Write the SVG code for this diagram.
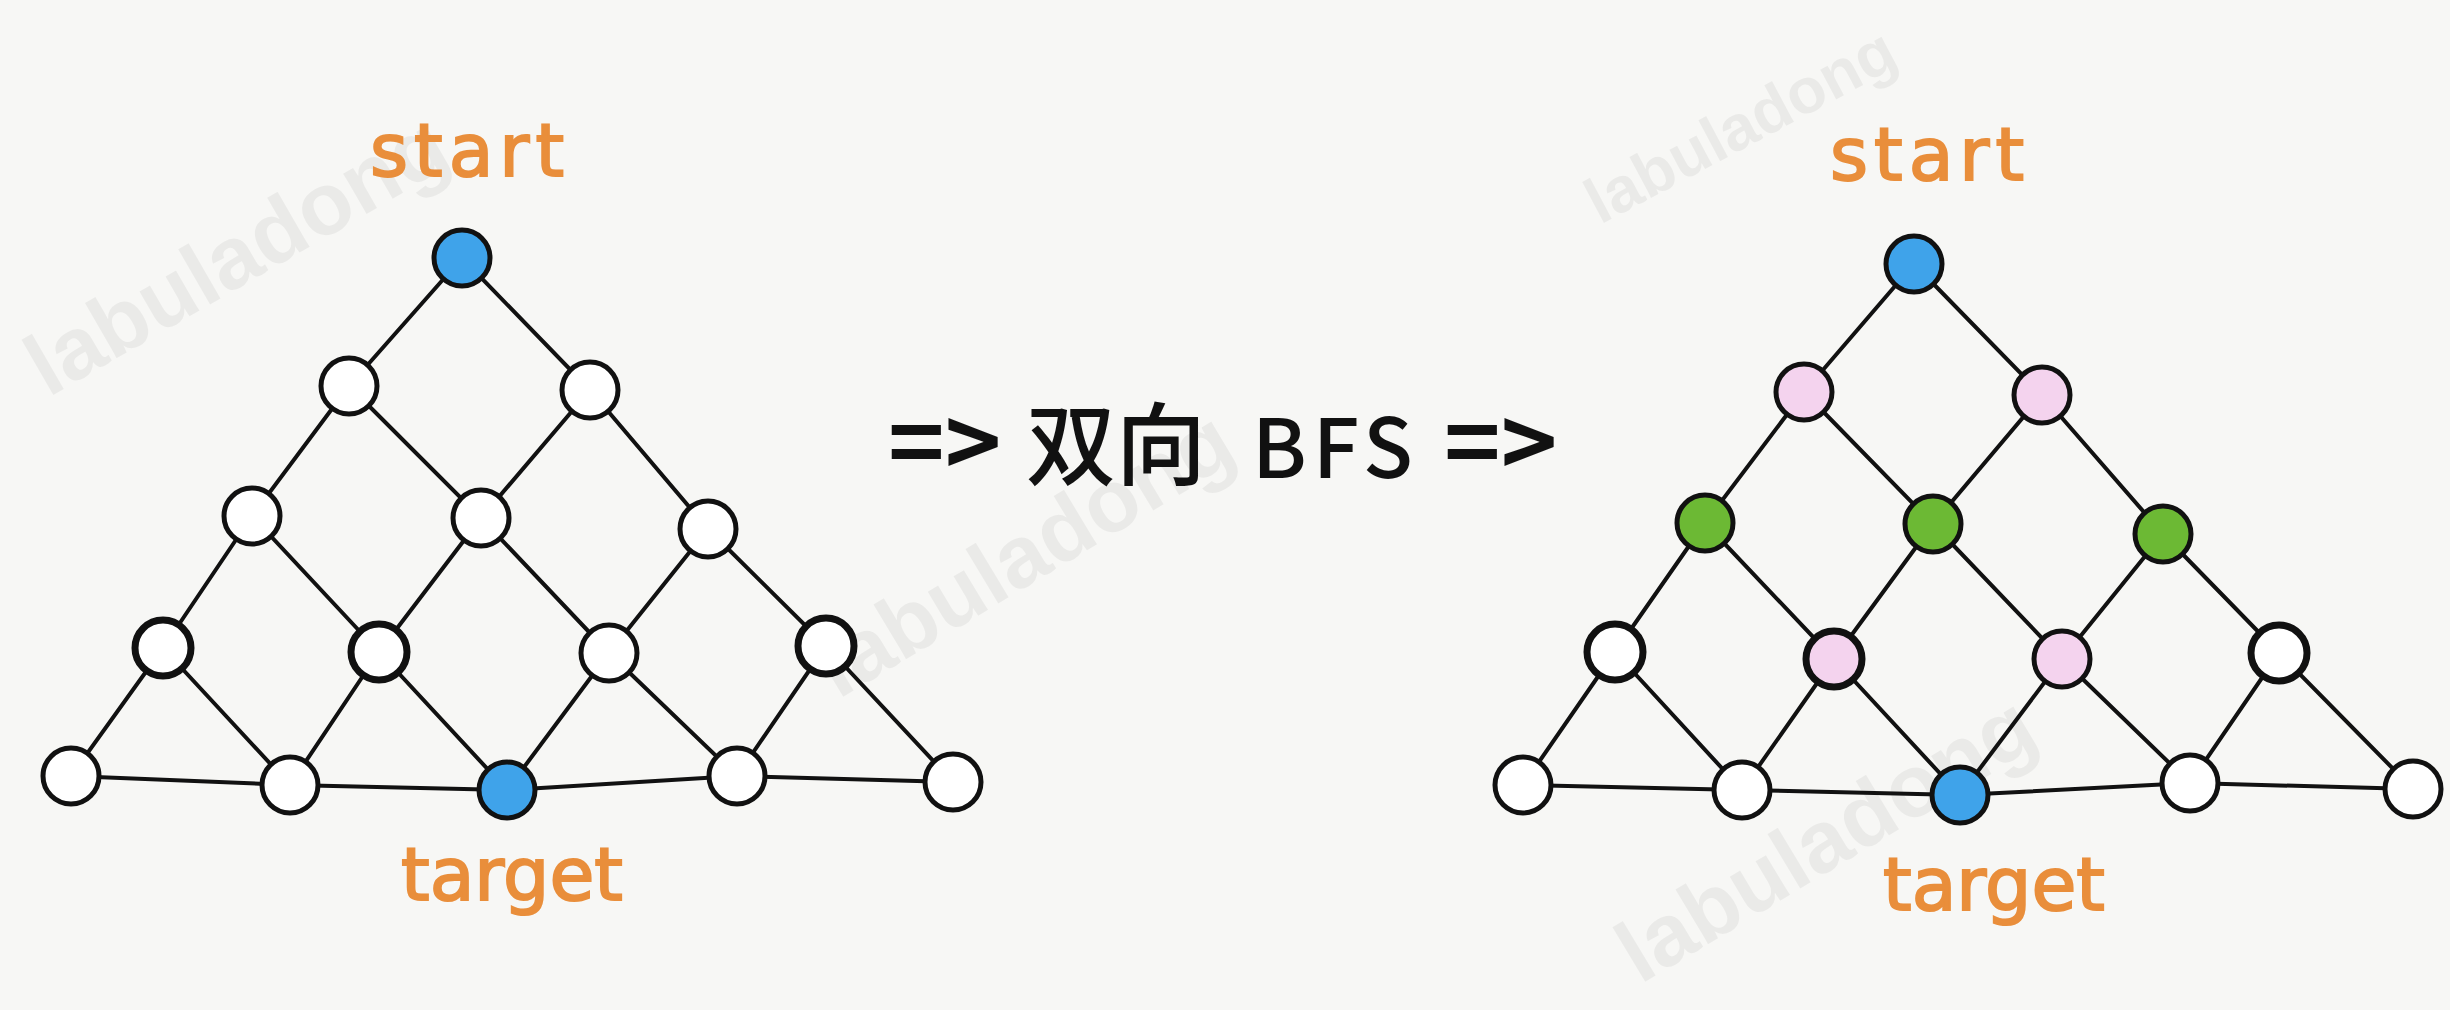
<svg xmlns="http://www.w3.org/2000/svg" width="2450" height="1010" viewBox="0 0 2450 1010">
<style>
.bg{fill:#f7f7f5}
.e{stroke:#111;stroke-width:4;fill:none;stroke-linecap:round}
.n{stroke:#111;stroke-width:5}
.w{fill:#ffffff}
.b{fill:#3fa3ea}
.p{fill:#f4d3ee}
.g{fill:#6cb934}
.thick{stroke-width:7}
.lbl{font-family:"DejaVu Sans","Liberation Sans",sans-serif;font-size:73px;fill:#e98e3b;stroke:#e98e3b;stroke-width:2;text-anchor:middle}
.wm{font-family:"Liberation Sans","DejaVu Sans",sans-serif;font-weight:700;font-size:88px;fill:#000;fill-opacity:0.05}
.wms{font-size:64px}
.mid{font-family:"Noto Sans CJK SC","Noto Sans",sans-serif;fill:#111}
</style>
<rect class="bg" x="0" y="0" width="2450" height="1010"/>
<g id="watermarks">
<text class="wm" transform="translate(48,398) rotate(-30)">labuladong</text>
<text class="wm" transform="translate(838,700) rotate(-31)">labuladong</text>
<text class="wm wms" transform="translate(1600,225) rotate(-28)">labuladong</text>
<text class="wm" transform="translate(1640,985) rotate(-31)">labuladong</text>
</g>
<g id="connectors">
<line class="e" x1="462" y1="258" x2="349" y2="386"/>
<line class="e" x1="462" y1="258" x2="590" y2="390"/>
<line class="e" x1="349" y1="386" x2="252" y2="516"/>
<line class="e" x1="349" y1="386" x2="481" y2="518"/>
<line class="e" x1="590" y1="390" x2="481" y2="518"/>
<line class="e" x1="590" y1="390" x2="708" y2="529"/>
<line class="e" x1="252" y1="516" x2="163" y2="648"/>
<line class="e" x1="252" y1="516" x2="379" y2="652"/>
<line class="e" x1="481" y1="518" x2="379" y2="652"/>
<line class="e" x1="481" y1="518" x2="609" y2="653"/>
<line class="e" x1="708" y1="529" x2="609" y2="653"/>
<line class="e" x1="708" y1="529" x2="826" y2="646"/>
<line class="e" x1="163" y1="648" x2="71" y2="776"/>
<line class="e" x1="163" y1="648" x2="290" y2="785"/>
<line class="e" x1="379" y1="652" x2="290" y2="785"/>
<line class="e" x1="379" y1="652" x2="507" y2="790"/>
<line class="e" x1="609" y1="653" x2="507" y2="790"/>
<line class="e" x1="609" y1="653" x2="737" y2="776"/>
<line class="e" x1="826" y1="646" x2="737" y2="776"/>
<line class="e" x1="826" y1="646" x2="953" y2="782"/>
<polyline class="e" points="71,776 290,785 507,790 737,776 953,782"/>
<line class="e" x1="1914" y1="264" x2="1804" y2="392"/>
<line class="e" x1="1914" y1="264" x2="2042" y2="395"/>
<line class="e" x1="1804" y1="392" x2="1705" y2="523"/>
<line class="e" x1="1804" y1="392" x2="1933" y2="524"/>
<line class="e" x1="2042" y1="395" x2="1933" y2="524"/>
<line class="e" x1="2042" y1="395" x2="2163" y2="534"/>
<line class="e" x1="1705" y1="523" x2="1615" y2="652"/>
<line class="e" x1="1705" y1="523" x2="1834" y2="659"/>
<line class="e" x1="1933" y1="524" x2="1834" y2="659"/>
<line class="e" x1="1933" y1="524" x2="2062" y2="659"/>
<line class="e" x1="2163" y1="534" x2="2062" y2="659"/>
<line class="e" x1="2163" y1="534" x2="2279" y2="653"/>
<line class="e" x1="1615" y1="652" x2="1523" y2="785"/>
<line class="e" x1="1615" y1="652" x2="1742" y2="790"/>
<line class="e" x1="1834" y1="659" x2="1742" y2="790"/>
<line class="e" x1="1834" y1="659" x2="1960" y2="795"/>
<line class="e" x1="2062" y1="659" x2="1960" y2="795"/>
<line class="e" x1="2062" y1="659" x2="2190" y2="783"/>
<line class="e" x1="2279" y1="653" x2="2190" y2="783"/>
<line class="e" x1="2279" y1="653" x2="2413" y2="789"/>
<polyline class="e" points="1523,785 1742,790 1960,795 2190,783 2413,789"/>
</g>
<g id="left-nodes">
<g id="L1"><circle class="n b" cx="462" cy="258" r="28"/></g>
<g id="L2a"><circle class="n w" cx="349" cy="386" r="28"/></g>
<g id="L2b"><circle class="n w" cx="590" cy="390" r="28"/></g>
<g id="L3a"><circle class="n w" cx="252" cy="516" r="28"/></g>
<g id="L3b"><circle class="n w" cx="481" cy="518" r="28"/></g>
<g id="L3c"><circle class="n w" cx="708" cy="529" r="28"/></g>
<g id="L4a"><circle class="n w thick" cx="163" cy="648" r="28"/></g>
<g id="L4b"><circle class="n w thick" cx="379" cy="652" r="28"/></g>
<g id="L4c"><circle class="n w" cx="609" cy="653" r="28"/></g>
<g id="L4d"><circle class="n w thick" cx="826" cy="646" r="28"/></g>
<g id="L5a"><circle class="n w" cx="71" cy="776" r="28"/></g>
<g id="L5b"><circle class="n w" cx="290" cy="785" r="28"/></g>
<g id="L5c"><circle class="n b" cx="507" cy="790" r="28"/></g>
<g id="L5d"><circle class="n w" cx="737" cy="776" r="28"/></g>
<g id="L5e"><circle class="n w" cx="953" cy="782" r="28"/></g>
</g>
<g id="right-nodes">
<g id="R1"><circle class="n b" cx="1914" cy="264" r="28"/></g>
<g id="R2a"><circle class="n p" cx="1804" cy="392" r="28"/></g>
<g id="R2b"><circle class="n p" cx="2042" cy="395" r="28"/></g>
<g id="R3a"><circle class="n g" cx="1705" cy="523" r="28"/></g>
<g id="R3b"><circle class="n g" cx="1933" cy="524" r="28"/></g>
<g id="R3c"><circle class="n g" cx="2163" cy="534" r="28"/></g>
<g id="R4a"><circle class="n w thick" cx="1615" cy="652" r="28"/></g>
<g id="R4b"><circle class="n p thick" cx="1834" cy="659" r="28"/></g>
<g id="R4c"><circle class="n p" cx="2062" cy="659" r="28"/></g>
<g id="R4d"><circle class="n w thick" cx="2279" cy="653" r="28"/></g>
<g id="R5a"><circle class="n w" cx="1523" cy="785" r="28"/></g>
<g id="R5b"><circle class="n w" cx="1742" cy="790" r="28"/></g>
<g id="R5c"><circle class="n b" cx="1960" cy="795" r="28"/></g>
<g id="R5d"><circle class="n w" cx="2190" cy="783" r="28"/></g>
<g id="R5e"><circle class="n w" cx="2413" cy="789" r="28"/></g>
</g>
<g id="labels">
<text class="lbl" x="470" y="176" letter-spacing="6">start</text>
<text class="lbl" x="512" y="900">target</text>
<text class="lbl" x="1930" y="180" letter-spacing="6">start</text>
<text class="lbl" x="1994" y="910">target</text>
</g>
<g id="title">
<text class="mid" y="478"><tspan x="888" font-size="96" font-weight="700">=&gt; </tspan><tspan x="1026" font-size="90" font-weight="500">双向 </tspan><tspan x="1252" font-size="82" font-weight="500" letter-spacing="6">BFS </tspan><tspan x="1444" font-size="96" font-weight="700" letter-spacing="0">=&gt;</tspan></text>
</g>
</svg>
